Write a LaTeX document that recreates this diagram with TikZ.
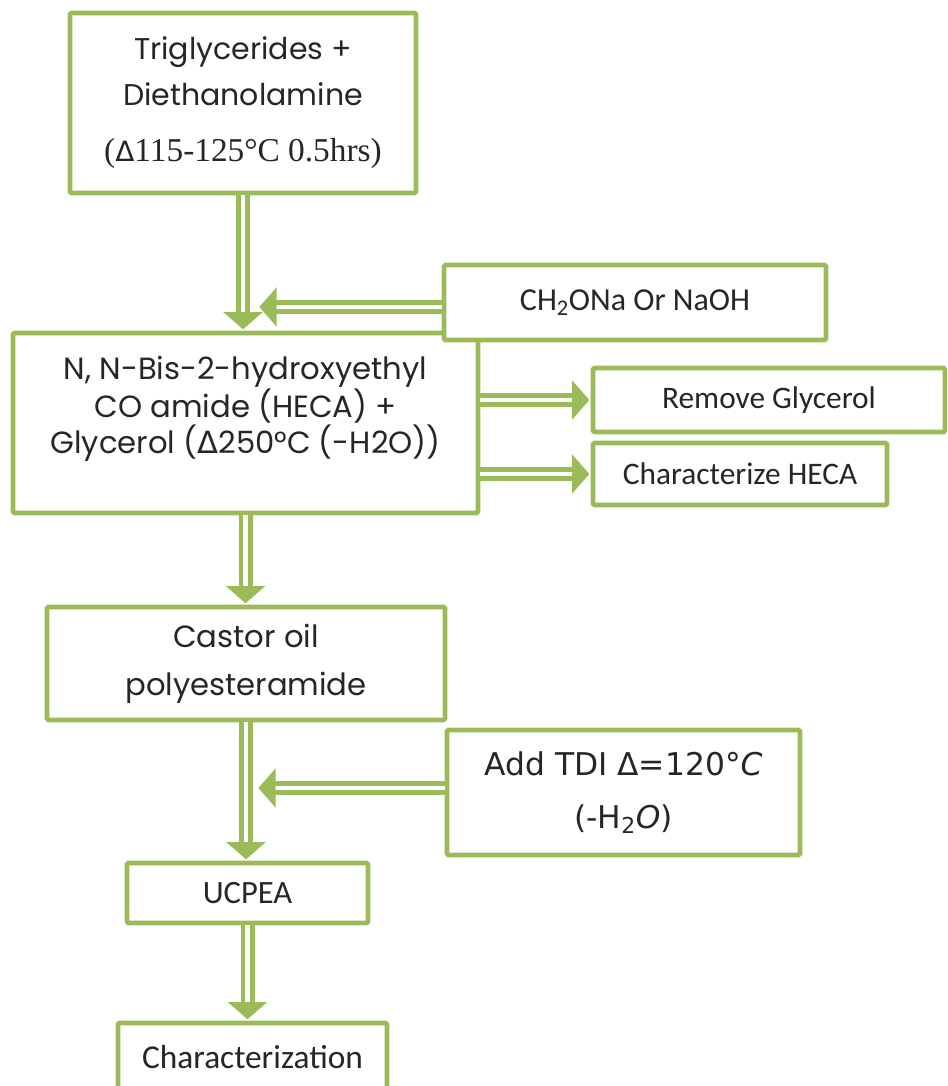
\documentclass[tikz,border=0pt]{standalone}
\usepackage{fontspec}
\setmainfont{Carlito}
\newfontfamily\gothic{Poppins}
\newfontfamily\greek{DejaVu Sans}
\newfontfamily\timesf{Liberation Serif}
\newfontfamily\casual{DejaVu Sans}
\usetikzlibrary{arrows.meta}
\definecolor{olivegreen}{HTML}{9BBB59}

\begin{document}
\begin{tikzpicture}[x=0.75pt,y=-0.75pt,
  box/.style={draw=olivegreen,line width=3.5pt,rounded corners=1pt,fill=white,
    align=center,inner sep=0pt,text=black!85},
  flow/.style={draw=olivegreen,line width=3.5pt,double=white,double distance=3.5pt,
    -{Triangle[width=29pt,length=13pt]},shorten >=1pt}]
  \useasboundingbox (0,0) rectangle (947,1086);
  \clip (0,0) rectangle (947,1086);
  \node [box,minimum width=259.5pt,minimum height=135pt,
    font=\gothic\fontsize{22.5}{34}\selectfont] (trig) at (243,103)
    {Triglycerides +\\Diethanolamine\\[8pt]
     {\timesf\fontsize{25}{30}\selectfont ({\greek\fontsize{21}{30}\selectfont Δ}115-125°C 0.5hrs)}\rule[-6pt]{0pt}{6pt}};
  \node [box,minimum width=348.75pt,minimum height=135pt,
    font=\gothic\fontsize{23}{25.5}\selectfont] (heca) at (245.5,423)
    {N, N-Bis-2-hydroxyethyl\\CO amide (HECA) +\\
     Glycerol ({\greek Δ}250°C (-H2O))\rule[-27pt]{0pt}{27pt}};
  \node [box,minimum width=286.5pt,minimum height=56.25pt,
    font=\fontsize{24}{28}\selectfont] (base) at (635,302.5)
    {CH\textsubscript{2}ONa Or NaOH};
  \node [box,minimum width=264pt,minimum height=48pt,
    font=\fontsize{23.5}{28}\selectfont] (remove) at (769,400)
    {Remove Glycerol};
  \node [box,minimum width=220.5pt,minimum height=46.5pt,
    font=\fontsize{23.5}{28}\selectfont] (charheca) at (740,474)
    {Characterize HECA};
  \node [box,minimum width=298.5pt,minimum height=84.75pt,
    font=\gothic\fontsize{23}{36}\selectfont] (castor) at (246,663.5)
    {Castor oil\\polyesteramide};
  \node [box,minimum width=264.75pt,minimum height=93.75pt,
    font=\casual\fontsize{23.5}{40}\selectfont] (tdi) at (623.5,792.5)
    {Add TDI Δ=120°\textit{C}\\(-H\textsubscript{2}\textit{O})};
  \node [box,minimum width=180.75pt,minimum height=45pt,
    font=\fontsize{24.4}{29}\selectfont] (ucpea) at (247.5,893)
    {UCPEA};
  \node [box,minimum width=201.75pt,minimum height=51pt,
    font=\fontsize{25}{30}\selectfont] (charz) at (252.5,1057)
    {Characterization};
  \coordinate (m1) at (258,307);
  \coordinate (m2) at (257,788);
  \path [flow] (trig.south) -- (trig.south |- heca.north);
  \path [flow] (base.west |- m1) -- (m1);
  \path [flow] (heca.east |- remove.west) -- (remove.west);
  \path [flow] (heca.east |- charheca.west) -- (charheca.west);
  \path [flow] (heca.south) -- (heca.south |- castor.north);
  \path [flow] (castor.south) -- (castor.south |- ucpea.north);
  \path [flow] (tdi.west |- m2) -- (m2);
  \path [flow] (ucpea.south) -- (ucpea.south |- charz.north);
\end{tikzpicture}
\end{document}
